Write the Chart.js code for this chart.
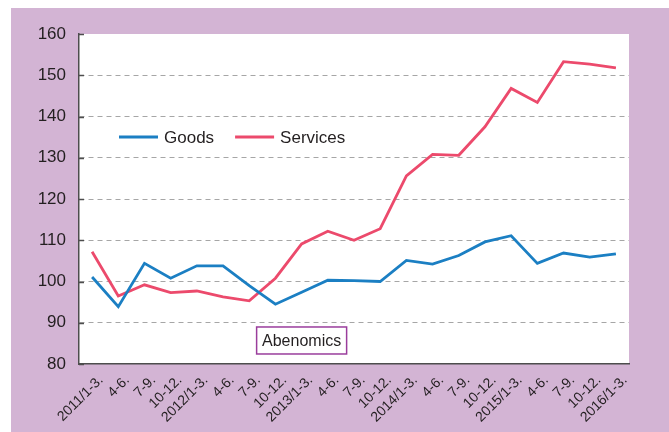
<!DOCTYPE html>
<html>
<head>
<meta charset="utf-8">
<script src="https://cdn.jsdelivr.net/npm/chart.js@4.4.1/dist/chart.umd.min.js"></script>
<style>
  html, body { margin: 0; padding: 0; background: #ffffff; }
  #wrap { width: 669px; height: 432px; }
</style>
</head>
<body>
<div id="wrap"><canvas id="chart" width="669" height="432"></canvas></div>
<script>
const quarters = [
  '2011/1-3.', '4-6.', '7-9.', '10-12.',
  '2012/1-3.', '4-6.', '7-9.', '10-12.',
  '2013/1-3.', '4-6.', '7-9.', '10-12.',
  '2014/1-3.', '4-6.', '7-9.', '10-12.',
  '2015/1-3.', '4-6.', '7-9.', '10-12.',
  '2016/1-3.'
];
const goods = [
  101.1, 93.9, 104.4, 100.8,
  103.8, 103.8, 99.0, 94.5,
  97.4, 100.3, 100.2, 100.0,
  105.1, 104.2, 106.3, 109.6,
  111.1, 104.4, 106.9, 105.9,
  106.7
];
const services = [
  107.2, 96.5, 99.2, 97.3,
  97.7, 96.3, 95.3, 100.8,
  109.1, 112.2, 110.0, 112.8,
  125.6, 130.8, 130.6, 137.5,
  146.8, 143.4, 153.3, 152.7,
  151.8
];
const yTicks = { min: 80, max: 160, step: 10 };
const noteText = 'Abenomics';
const noteAt = { index: 8, value: 85.7 };

const FONT = '"Liberation Sans", Arial, Helvetica, sans-serif';
const TEXT = '#231f20';

// purple frame, white plot area
const background = {
  id: 'background',
  beforeDraw(chart) {
    const { ctx, chartArea: a } = chart;
    ctx.save();
    ctx.fillStyle = '#ffffff';
    ctx.fillRect(0, 0, chart.width, chart.height);
    ctx.fillStyle = '#d3b4d4';
    ctx.fillRect(11, 8, chart.width - 11, chart.height - 8);
    ctx.fillStyle = '#ffffff';
    ctx.fillRect(a.left, a.top, a.right - a.left, a.bottom - a.top);
    ctx.restore();
  }
};

// short inward ticks on the y axis, legend and the note box
const extras = {
  id: 'extras',
  afterDraw(chart) {
    const { ctx, chartArea: a, scales } = chart;
    const y = scales.y, x = scales.x;
    ctx.save();
    ctx.strokeStyle = '#4d4d4d';
    ctx.lineWidth = 1.5;
    y.ticks.forEach(t => {
      const py = Math.round(y.getPixelForValue(t.value)) + 0.5;
      ctx.beginPath();
      ctx.moveTo(a.left, py);
      ctx.lineTo(a.left + 5, py);
      ctx.stroke();
    });

    // legend
    ctx.font = '17px ' + FONT;
    ctx.textBaseline = 'middle';
    let lx = a.left + 40;
    const ly = a.top + 103;
    chart.data.datasets.forEach(ds => {
      ctx.strokeStyle = ds.borderColor;
      ctx.lineWidth = 3;
      ctx.beginPath();
      ctx.moveTo(lx, ly);
      ctx.lineTo(lx + 39, ly);
      ctx.stroke();
      ctx.fillStyle = TEXT;
      ctx.fillText(ds.label, lx + 45, ly + 1);
      lx += 45 + ctx.measureText(ds.label).width + 21;
    });

    // note box
    ctx.font = '16px ' + FONT;
    const cx = x.getPixelForValue(noteAt.index);
    const cy = y.getPixelForValue(noteAt.value);
    const w = 90, h = 27;
    ctx.fillStyle = '#ffffff';
    ctx.fillRect(cx - w / 2, cy - h / 2, w, h);
    ctx.strokeStyle = '#9a3d9c';
    ctx.lineWidth = 1.5;
    ctx.strokeRect(cx - w / 2, cy - h / 2, w, h);
    ctx.fillStyle = TEXT;
    ctx.textAlign = 'center';
    ctx.fillText(noteText, cx, cy + 1);
    ctx.restore();
  }
};

new Chart(document.getElementById('chart'), {
  type: 'line',
  data: {
    labels: quarters,
    datasets: [
      {
        label: 'Goods',
        data: goods,
        borderColor: '#1b7fc3',
        borderWidth: 2.8,
        pointRadius: 0,
        tension: 0
      },
      {
        label: 'Services',
        data: services,
        borderColor: '#ec4a6c',
        borderWidth: 2.8,
        pointRadius: 0,
        tension: 0
      }
    ]
  },
  options: {
    responsive: false,
    animation: false,
    layout: { padding: { top: 34, right: 40, left: 0, bottom: 0 } },
    plugins: {
      legend: { display: false },
      tooltip: { enabled: false }
    },
    scales: {
      x: {
        offset: true,
        afterFit: s => { s.height = 68; },
        grid: { display: false, drawTicks: false },
        border: { display: true, color: '#4d4d4d', width: 1.5 },
        ticks: {
          autoSkip: false,
          maxRotation: 45,
          minRotation: 45,
          padding: 8,
          labelOffset: 9,
          color: TEXT,
          font: { family: FONT, size: 14 }
        }
      },
      y: {
        min: yTicks.min,
        max: yTicks.max,
        afterFit: s => { s.width = 79; },
        grid: {
          drawTicks: false,
          color: ctx => (ctx.tick && (ctx.tick.value === yTicks.min || ctx.tick.value === yTicks.max)) ? 'rgba(0,0,0,0)' : '#a6a6a6',
          lineWidth: 1
        },
        border: { display: true, color: '#4d4d4d', width: 1.5, dash: [5, 4] },
        ticks: {
          stepSize: yTicks.step,
          padding: 13,
          color: TEXT,
          font: { family: FONT, size: 17 }
        }
      }
    }
  },
  plugins: [background, extras]
});
</script>
</body>
</html>
